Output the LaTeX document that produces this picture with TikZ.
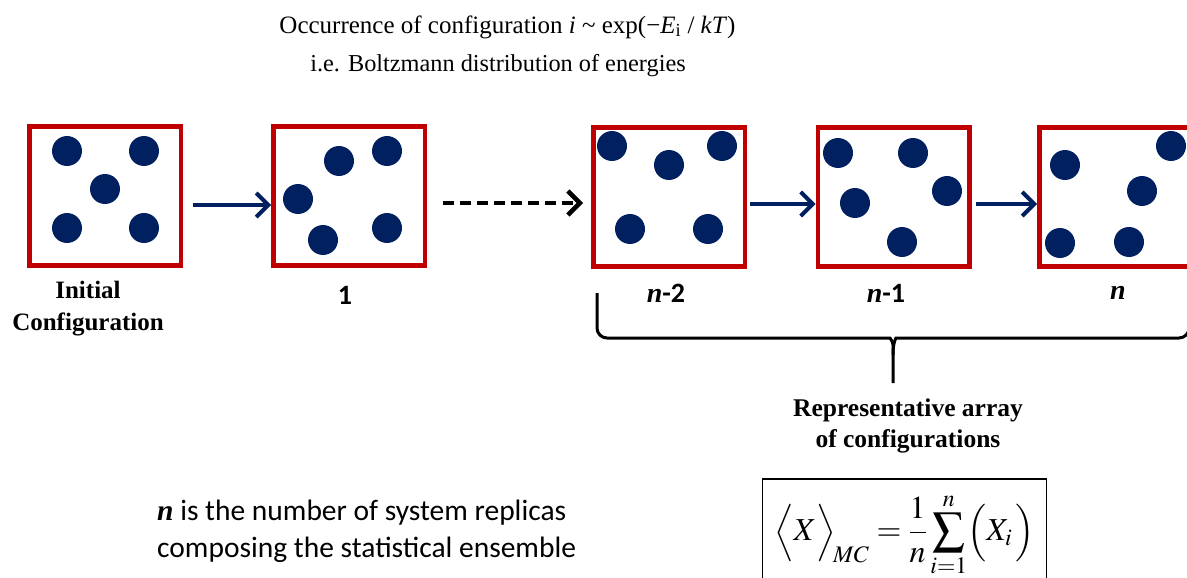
\documentclass[tikz,border=0pt]{standalone}
\usepackage{mathptmx}
\usepackage{fontspec}
\setmainfont{Liberation Serif}
\newfontfamily\calibri{Carlito}
\usetikzlibrary{arrows.meta}
\definecolor{boxred}{RGB}{192,0,0}
\definecolor{navy}{RGB}{0,32,96}
\tikzset{
  config/.style={draw=boxred, line width=4.5pt, minimum width=151.5pt, minimum height=139pt, inner sep=0pt},
  fwd/.style={draw=navy, line width=4pt, -{Straight Barb[length=12pt,width=24pt]}},
  dasharrow/.style={draw=black, line width=4.5pt, dash pattern=on 11pt off 6pt, -{Straight Barb[length=12pt,width=24pt]}},
  lbl/.style={font=\fontsize{25}{32}\selectfont\bfseries, align=center, inner sep=0pt},
  numlbl/.style={font=\calibri\bfseries\fontsize{28}{30}\selectfont, inner sep=0pt},
}
\begin{document}
\begin{tikzpicture}[x=1pt,y=-1pt]
\useasboundingbox (0,0) rectangle (1187,578);
\clip (0,0) rectangle (1187,578);
% top text
\node[inner sep=0pt, font=\fontsize{25}{28}\selectfont] (t1) at (507.5,27) {Occurrence of configuration \textit{i} \textasciitilde{} exp(−\textit{E}\textsubscript{i} / \textit{kT})};
\node[inner sep=0pt, font=\fontsize{24.3}{28}\selectfont] (t2) at (498,66) {i.e. Boltzmann distribution of energies};
% boxes
\node[config] (c0) at (105,196) {};
\node[config] (c1) at (349,196) {};
\node[config] (c2) at (669,197) {};
\node[config] (c3) at (893.5,197) {};
\node[config] (c4) at (1115,197) {};
% dots
\foreach \dx/\dy in {-38/-45, 39/-45, 0/-7, -38/32, 39/32}
  \fill[navy] ([shift={(\dx,\dy)}]c0.center) circle[radius=15pt];
\foreach \dx/\dy in {-10/-35, 38/-45, -51/3, -26/44, 38/32}
  \fill[navy] ([shift={(\dx,\dy)}]c1.center) circle[radius=15pt];
\foreach \dx/\dy in {-57/-51, 0/-32, 53/-51, -39/32, 39/32}
  \fill[navy] ([shift={(\dx,\dy)}]c2.center) circle[radius=15pt];
\foreach \dx/\dy in {-55.5/-44, 19.5/-44, 53.5/-6, -38.5/6, 8.5/45}
  \fill[navy] ([shift={(\dx,\dy)}]c3.center) circle[radius=15pt];
\foreach \dx/\dy in {-50/-32, 56/-51, 27/-6, -55/46, 14/45}
  \fill[navy] ([shift={(\dx,\dy)}]c4.center) circle[radius=15pt];
% arrows
\draw[fwd, shorten <=10pt] ([yshift=-9pt]c0.east) -- ([yshift=-9pt]c1.west);
\draw[dasharrow, shorten <=16pt, shorten >=8pt] ([yshift=-7pt]c1.east) -- ([yshift=-6pt]c2.west);
\draw[fwd, shorten <=3pt] ([yshift=-7pt]c2.east) -- ([yshift=-7pt]c3.west);
\draw[fwd, shorten <=4pt] ([yshift=-7pt]c3.east) -- ([yshift=-7pt]c4.west);
% labels
\node[lbl] (linit) at (88,309) {Initial\\Configuration};
\node[numlbl] (l1) at (345,295) {1};
\node[numlbl] (l2) at (666,293) {{\rmfamily\bfseries\itshape n}-2};
\node[numlbl] (l3) at (886,293) {{\rmfamily\bfseries\itshape n}-1};
\node[numlbl] (l4) at (1118,293) {{\rmfamily\bfseries\itshape n}};
% brace
\draw[line width=3pt, rounded corners=10pt] (597,293) |- (880,338) .. controls (890,338) and (893,342) .. (893,355) -- (893,383);
\draw[line width=3pt, rounded corners=10pt] (1189,293) |- (906,338) .. controls (896,338) and (893,342) .. (893,355);
\node[lbl, font=\fontsize{25.5}{31}\selectfont\bfseries] (rep) at (908,426) {Representative array\\of configurations};
% formula
\node[draw, line width=1.2pt, minimum width=284pt, minimum height=112pt, font=\fontsize{32}{38}\selectfont] (f) at (904.5,535)
  {$\displaystyle \Bigl\langle X\Bigr\rangle_{\!MC}=\frac{1}{n}\sum_{i=1}^{n}\Bigl(X_{i}\,\Bigr)$};
% note
\node[anchor=west, align=left, inner sep=0pt, font=\calibri\fontsize{29.5}{37}\selectfont] (note) at (157,531)
  {{\rmfamily\bfseries\itshape n} is the number of system replicas\\composing the statistical\ ensemble};
\end{tikzpicture}
\end{document}
